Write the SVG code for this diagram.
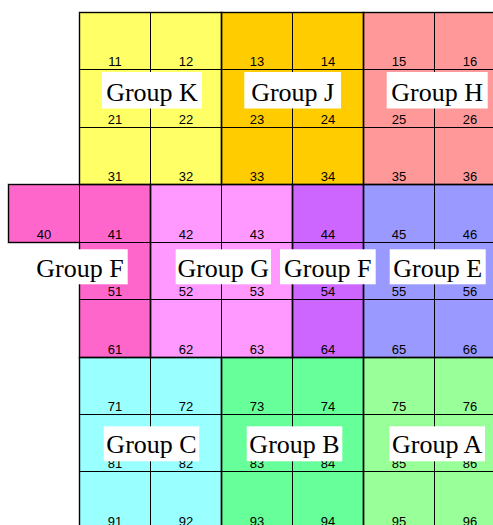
<svg xmlns="http://www.w3.org/2000/svg" width="493" height="525" viewBox="0 0 493 525">
<style>
.c{stroke:#000;stroke-width:1}
.n{font-family:"Liberation Sans",Arial,sans-serif;font-size:13px;text-anchor:middle;fill:#000}
.o{fill:none;stroke:#000;stroke-opacity:0.4;stroke-width:2}
.lb{fill:#fff}
.lt{font-family:"Liberation Serif","Times New Roman",serif;font-size:26px;text-anchor:middle;fill:#000}
.y{fill:#ffff66}.or{fill:#ffcc00}.s{fill:#ff9999}.hp{fill:#ff66cc}.lp{fill:#ff99ff}.pu{fill:#cc66ff}.bl{fill:#9999ff}.cy{fill:#99ffff}.gr{fill:#66ff99}.lg{fill:#99ff99}
</style>
<rect width="493" height="525" fill="#fff"/>
<g id="cells">
<g id="c11"><rect class="c y" x="79.5" y="12.5" width="71" height="57"/><text class="n" x="115" y="66">11</text></g>
<g id="c12"><rect class="c y" x="150.5" y="12.5" width="71" height="57"/><text class="n" x="186" y="66">12</text></g>
<g id="c13"><rect class="c or" x="221.5" y="12.5" width="71" height="57"/><text class="n" x="257" y="66">13</text></g>
<g id="c14"><rect class="c or" x="292.5" y="12.5" width="71" height="57"/><text class="n" x="328" y="66">14</text></g>
<g id="c15"><rect class="c s" x="363.5" y="12.5" width="71" height="57"/><text class="n" x="399" y="66">15</text></g>
<g id="c16"><rect class="c s" x="434.5" y="12.5" width="71" height="57"/><text class="n" x="470" y="66">16</text></g>
<g id="c21"><rect class="c y" x="79.5" y="69.5" width="71" height="58"/><text class="n" x="115" y="124">21</text></g>
<g id="c22"><rect class="c y" x="150.5" y="69.5" width="71" height="58"/><text class="n" x="186" y="124">22</text></g>
<g id="c23"><rect class="c or" x="221.5" y="69.5" width="71" height="58"/><text class="n" x="257" y="124">23</text></g>
<g id="c24"><rect class="c or" x="292.5" y="69.5" width="71" height="58"/><text class="n" x="328" y="124">24</text></g>
<g id="c25"><rect class="c s" x="363.5" y="69.5" width="71" height="58"/><text class="n" x="399" y="124">25</text></g>
<g id="c26"><rect class="c s" x="434.5" y="69.5" width="71" height="58"/><text class="n" x="470" y="124">26</text></g>
<g id="c31"><rect class="c y" x="79.5" y="127.5" width="71" height="57"/><text class="n" x="115" y="181">31</text></g>
<g id="c32"><rect class="c y" x="150.5" y="127.5" width="71" height="57"/><text class="n" x="186" y="181">32</text></g>
<g id="c33"><rect class="c or" x="221.5" y="127.5" width="71" height="57"/><text class="n" x="257" y="181">33</text></g>
<g id="c34"><rect class="c or" x="292.5" y="127.5" width="71" height="57"/><text class="n" x="328" y="181">34</text></g>
<g id="c35"><rect class="c s" x="363.5" y="127.5" width="71" height="57"/><text class="n" x="399" y="181">35</text></g>
<g id="c36"><rect class="c s" x="434.5" y="127.5" width="71" height="57"/><text class="n" x="470" y="181">36</text></g>
<g id="c40"><rect class="c hp" x="8.5" y="184.5" width="71" height="58"/><text class="n" x="44" y="238.5">40</text></g>
<g id="c41"><rect class="c hp" x="79.5" y="184.5" width="71" height="58"/><text class="n" x="115" y="238.5">41</text></g>
<g id="c42"><rect class="c lp" x="150.5" y="184.5" width="71" height="58"/><text class="n" x="186" y="238.5">42</text></g>
<g id="c43"><rect class="c lp" x="221.5" y="184.5" width="71" height="58"/><text class="n" x="257" y="238.5">43</text></g>
<g id="c44"><rect class="c pu" x="292.5" y="184.5" width="71" height="58"/><text class="n" x="328" y="238.5">44</text></g>
<g id="c45"><rect class="c bl" x="363.5" y="184.5" width="71" height="58"/><text class="n" x="399" y="238.5">45</text></g>
<g id="c46"><rect class="c bl" x="434.5" y="184.5" width="71" height="58"/><text class="n" x="470" y="238.5">46</text></g>
<g id="c51"><rect class="c hp" x="79.5" y="242.5" width="71" height="57"/><text class="n" x="115" y="296">51</text></g>
<g id="c52"><rect class="c lp" x="150.5" y="242.5" width="71" height="57"/><text class="n" x="186" y="296">52</text></g>
<g id="c53"><rect class="c lp" x="221.5" y="242.5" width="71" height="57"/><text class="n" x="257" y="296">53</text></g>
<g id="c54"><rect class="c pu" x="292.5" y="242.5" width="71" height="57"/><text class="n" x="328" y="296">54</text></g>
<g id="c55"><rect class="c bl" x="363.5" y="242.5" width="71" height="57"/><text class="n" x="399" y="296">55</text></g>
<g id="c56"><rect class="c bl" x="434.5" y="242.5" width="71" height="57"/><text class="n" x="470" y="296">56</text></g>
<g id="c61"><rect class="c hp" x="79.5" y="299.5" width="71" height="58"/><text class="n" x="115" y="353.5">61</text></g>
<g id="c62"><rect class="c lp" x="150.5" y="299.5" width="71" height="58"/><text class="n" x="186" y="353.5">62</text></g>
<g id="c63"><rect class="c lp" x="221.5" y="299.5" width="71" height="58"/><text class="n" x="257" y="353.5">63</text></g>
<g id="c64"><rect class="c pu" x="292.5" y="299.5" width="71" height="58"/><text class="n" x="328" y="353.5">64</text></g>
<g id="c65"><rect class="c bl" x="363.5" y="299.5" width="71" height="58"/><text class="n" x="399" y="353.5">65</text></g>
<g id="c66"><rect class="c bl" x="434.5" y="299.5" width="71" height="58"/><text class="n" x="470" y="353.5">66</text></g>
<g id="c71"><rect class="c cy" x="79.5" y="357.5" width="71" height="57"/><text class="n" x="115" y="411">71</text></g>
<g id="c72"><rect class="c cy" x="150.5" y="357.5" width="71" height="57"/><text class="n" x="186" y="411">72</text></g>
<g id="c73"><rect class="c gr" x="221.5" y="357.5" width="71" height="57"/><text class="n" x="257" y="411">73</text></g>
<g id="c74"><rect class="c gr" x="292.5" y="357.5" width="71" height="57"/><text class="n" x="328" y="411">74</text></g>
<g id="c75"><rect class="c lg" x="363.5" y="357.5" width="71" height="57"/><text class="n" x="399" y="411">75</text></g>
<g id="c76"><rect class="c lg" x="434.5" y="357.5" width="71" height="57"/><text class="n" x="470" y="411">76</text></g>
<g id="c81"><rect class="c cy" x="79.5" y="414.5" width="71" height="57"/><text class="n" x="115" y="468">81</text></g>
<g id="c82"><rect class="c cy" x="150.5" y="414.5" width="71" height="57"/><text class="n" x="186" y="468">82</text></g>
<g id="c83"><rect class="c gr" x="221.5" y="414.5" width="71" height="57"/><text class="n" x="257" y="468">83</text></g>
<g id="c84"><rect class="c gr" x="292.5" y="414.5" width="71" height="57"/><text class="n" x="328" y="468">84</text></g>
<g id="c85"><rect class="c lg" x="363.5" y="414.5" width="71" height="57"/><text class="n" x="399" y="468">85</text></g>
<g id="c86"><rect class="c lg" x="434.5" y="414.5" width="71" height="57"/><text class="n" x="470" y="468">86</text></g>
<g id="c91"><rect class="c cy" x="79.5" y="471.5" width="71" height="58"/><text class="n" x="115" y="525.5">91</text></g>
<g id="c92"><rect class="c cy" x="150.5" y="471.5" width="71" height="58"/><text class="n" x="186" y="525.5">92</text></g>
<g id="c93"><rect class="c gr" x="221.5" y="471.5" width="71" height="58"/><text class="n" x="257" y="525.5">93</text></g>
<g id="c94"><rect class="c gr" x="292.5" y="471.5" width="71" height="58"/><text class="n" x="328" y="525.5">94</text></g>
<g id="c95"><rect class="c lg" x="363.5" y="471.5" width="71" height="58"/><text class="n" x="399" y="525.5">95</text></g>
<g id="c96"><rect class="c lg" x="434.5" y="471.5" width="71" height="58"/><text class="n" x="470" y="525.5">96</text></g>
</g>
<g id="outlines">
<rect class="o" x="79.5" y="12.5" width="142" height="172"/>
<rect class="o" x="221.5" y="12.5" width="142" height="172"/>
<rect class="o" x="363.5" y="12.5" width="142" height="172"/>
<path class="o" d="M8.5,184.5H150.5V357.5H79.5V242.5H8.5Z"/>
<rect class="o" x="150.5" y="184.5" width="142" height="173"/>
<rect class="o" x="292.5" y="184.5" width="71" height="173"/>
<rect class="o" x="363.5" y="184.5" width="142" height="173"/>
<rect class="o" x="79.5" y="357.5" width="142" height="172"/>
<rect class="o" x="221.5" y="357.5" width="142" height="172"/>
<rect class="o" x="363.5" y="357.5" width="142" height="172"/>
</g>
<g id="groupK"><rect class="lb" x="102" y="72" width="100" height="36.5"/><text class="lt" x="152" y="100.5">Group K</text></g>
<g id="groupJ"><rect class="lb" x="244.3" y="72" width="96.7" height="36.5"/><text class="lt" x="292.7" y="100.5">Group J</text></g>
<g id="groupH"><rect class="lb" x="386.7" y="72" width="101" height="36.5"/><text class="lt" x="437.2" y="100.5">Group H</text></g>
<g id="groupF1"><rect class="lb" x="32" y="249.3" width="95.7" height="35"/><text class="lt" x="80" y="276.7">Group F</text></g>
<g id="groupG"><rect class="lb" x="175.7" y="249.3" width="95.3" height="35"/><text class="lt" x="223.3" y="276.7">Group G</text></g>
<g id="groupF2"><rect class="lb" x="280" y="249.3" width="95.7" height="35"/><text class="lt" x="327.8" y="276.7">Group F</text></g>
<g id="groupE"><rect class="lb" x="389.7" y="249.3" width="96" height="35"/><text class="lt" x="437.7" y="276.7">Group E</text></g>
<g id="groupC"><rect class="lb" x="103.7" y="426.3" width="95.6" height="35"/><text class="lt" x="151.5" y="453.3">Group C</text></g>
<g id="groupB"><rect class="lb" x="246.7" y="426.3" width="95.6" height="35"/><text class="lt" x="294.5" y="453.3">Group B</text></g>
<g id="groupA"><rect class="lb" x="389.3" y="426.3" width="95.7" height="35"/><text class="lt" x="437.2" y="453.3">Group A</text></g>
</svg>
